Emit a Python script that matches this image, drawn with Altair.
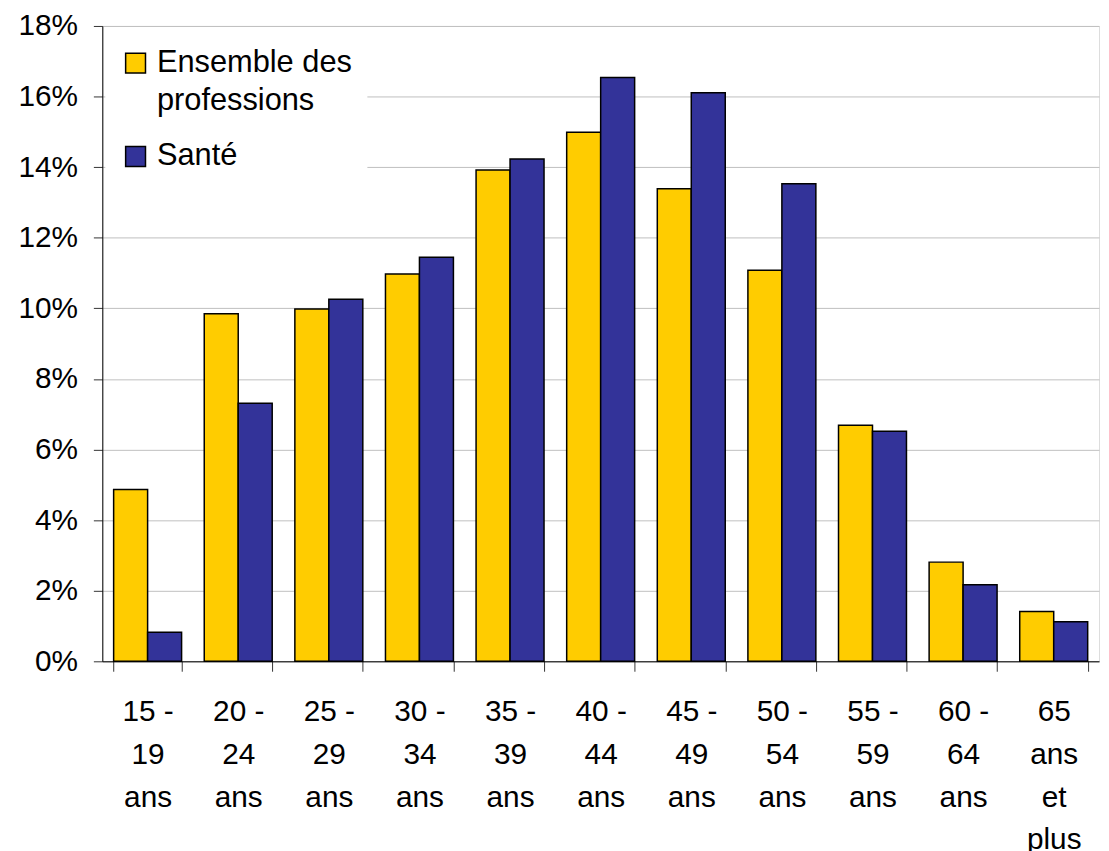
import json
import altair as alt
import pandas as pd

ages = ["15 - 19 ans", "20 - 24 ans", "25 - 29 ans", "30 - 34 ans", "35 - 39 ans",
        "40 - 44 ans", "45 - 49 ans", "50 - 54 ans", "55 - 59 ans", "60 - 64 ans",
        "65 ans et plus"]
age_lines = [["15 -", "19", "ans"], ["20 -", "24", "ans"], ["25 -", "29", "ans"],
             ["30 -", "34", "ans"], ["35 -", "39", "ans"], ["40 -", "44", "ans"],
             ["45 -", "49", "ans"], ["50 -", "54", "ans"], ["55 -", "59", "ans"],
             ["60 -", "64", "ans"], ["65", "ans", "et", "plus"]]
series = ["Ensemble des professions", "Santé"]
ensemble = [4.87, 9.85, 9.98, 10.97, 13.92, 14.99, 13.39, 11.08, 6.69, 2.81, 1.41]
sante = [0.82, 7.31, 10.26, 11.45, 14.23, 16.54, 16.11, 13.53, 6.52, 2.17, 1.12]
colors = ["#FFCC00", "#333399"]
y_ticks = [0, 2, 4, 6, 8, 10, 12, 14, 16, 18]

rows = []
for i, a in enumerate(ages):
    rows.append({"age": a, "serie": series[0], "val": ensemble[i]})
    rows.append({"age": a, "serie": series[1], "val": sante[i]})
df = pd.DataFrame(rows)

label_map = json.dumps({a: l for a, l in zip(ages, age_lines)}, ensure_ascii=False)
FONT = "Liberation Sans"

chart = alt.Chart(df).mark_bar(stroke="black", strokeWidth=1.5).encode(
    x=alt.X("age:N", sort=ages, title=None,
            scale=alt.Scale(paddingInner=0.25, paddingOuter=0.125),
            axis=alt.Axis(labelAngle=0, labelExpr=label_map + "[datum.label]",
                          labelFontSize=30, labelLineHeight=43, labelFont=FONT,
                          labelColor="black", labelBaseline="top", labelPadding=26,
                          tickBand="extent", tickSize=10, tickColor="#333",
                          domainColor="black", domainWidth=1, grid=False,
                          labelLimit=200)),
    xOffset=alt.XOffset("serie:N", sort=series, scale=alt.Scale(paddingInner=0, paddingOuter=0)),
    y=alt.Y("val:Q", title=None,
            scale=alt.Scale(domain=[0, 18], nice=False),
            axis=alt.Axis(values=y_ticks, labelExpr="datum.value + '%'",
                          labelFontSize=30, labelFont=FONT, labelColor="black",
                          labelPadding=16, tickSize=9, tickColor="#333",
                          domainColor="black", domainWidth=1,
                          grid=True, gridColor="#C0C0C0", gridWidth=1)),
    color=alt.Color("serie:N", sort=series,
                    scale=alt.Scale(domain=series, range=colors),
                    legend=alt.Legend(title=None, orient="none", legendX=3, legendY=7,
                                      symbolType="square", symbolSize=400,
                                      symbolStrokeColor="black", symbolStrokeWidth=1.5,
                                      symbolOpacity=1,
                                      labelFontSize=31, labelFont=FONT, labelColor="black",
                                      labelExpr="datum.label == 'Ensemble des professions' ? ['Ensemble des', 'professions'] : datum.label",
                                      labelOffset=6, rowPadding=24, padding=15,
                                      fillColor="white",
                                      labelLimit=400)),
).properties(
    width=1004, height=640,
    autosize=alt.AutoSizeParams(type="none"),
    padding={"left": 95, "top": 15, "right": 2, "bottom": 190},
).configure_view(
    stroke="#808080", strokeWidth=2
).configure(
    background="white",
    style={"guide-label": {"lineHeight": 38}}
)

chart.save("out.html", embed_options={"renderer": "svg", "actions": False})
